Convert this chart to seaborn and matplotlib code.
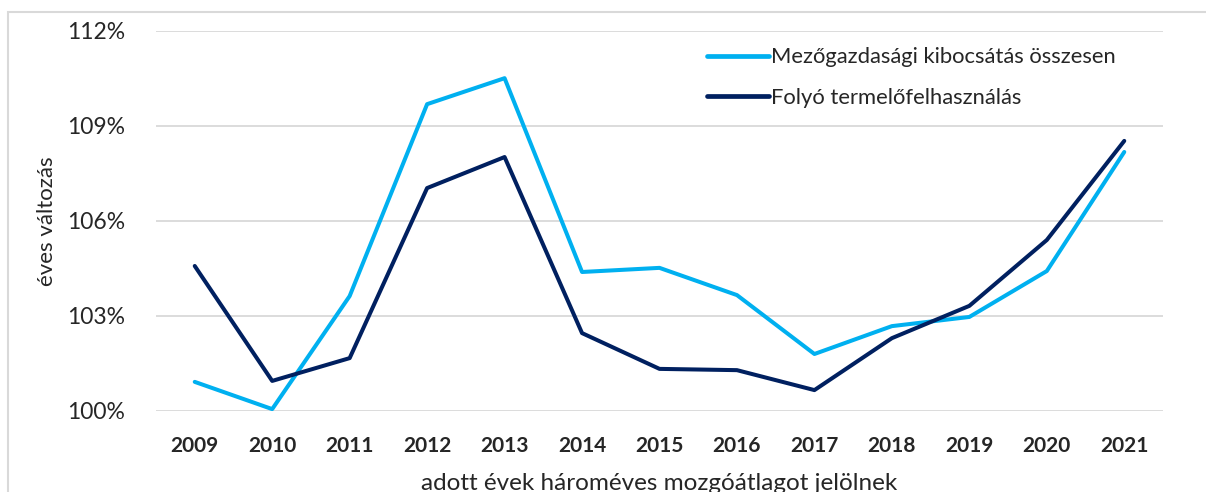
import pandas as pd
import seaborn as sb
import matplotlib.pyplot as plt
from matplotlib.patches import Rectangle
from matplotlib.ticker import FuncFormatter

years = [2009, 2010, 2011, 2012, 2013, 2014, 2015, 2016, 2017, 2018, 2019, 2020, 2021]
kibocsatas = [100.92, 100.06, 103.63, 109.69, 110.51, 104.39, 104.52, 103.66, 101.80, 102.68, 102.97, 104.42, 108.18]
termelofelh = [104.58, 100.95, 101.67, 107.04, 108.02, 102.46, 101.33, 101.29, 100.66, 102.30, 103.32, 105.40, 108.53]
series_names = ['Mezőgazdasági kibocsátás összesen', 'Folyó termelőfelhasználás']
colors = ['#00B0F0', '#002060']

data = pd.DataFrame({
    'ev': years * 2,
    'ertek': kibocsatas + termelofelh,
    'sorozat': [series_names[0]] * len(years) + [series_names[1]] * len(years),
})

sb.set_style('white')
plt.rcParams['font.family'] = ['Lato', 'DejaVu Sans']

fig = plt.figure(figsize=(12.06, 4.92), dpi=100)
ax = fig.add_axes([156 / 1206, 1 - 411 / 492, 1007 / 1206, 380 / 492])

sb.lineplot(data=data, x='ev', y='ertek', hue='sorozat', hue_order=series_names,
            palette=colors, linewidth=2.9, ax=ax, clip_on=False)

ax.set_xlim(2008.5, 2021.5)
ax.set_ylim(100, 112)
ax.set_yticks([100, 103, 106, 109, 112])
ax.yaxis.set_major_formatter(FuncFormatter(lambda v, p: f'{v:.0f}%'))
ax.set_xticks(years)
ax.set_xticklabels([str(y) for y in years], fontweight='bold', fontsize=15)
ax.tick_params(axis='y', labelsize=16.5, pad=22, length=0)
ax.tick_params(axis='x', pad=18, length=0)
ax.grid(axis='y', color='#D9D9D9', linewidth=1.3)
ax.set_axisbelow(True)
for s in ax.spines.values():
    s.set_visible(False)

ax.set_ylabel('éves változás', fontsize=16)
ax.yaxis.set_label_coords(-0.098, 0.5)
ax.set_xlabel('adott évek hároméves mozgóátlagot jelölnek', fontsize=17.5)
ax.xaxis.set_label_coords(0.5, -0.163)

leg = ax.legend(loc='upper left', bbox_to_anchor=(0.528, 1.009), frameon=False,
                fontsize=15.8, handlelength=2.8, handletextpad=0.1, labelspacing=0.95)
for line in leg.get_lines():
    line.set_linewidth(3.4)

fig.patches.append(Rectangle((8 / 1206, -0.1), 1.2, 1 - 12 / 492 + 0.1,
                             transform=fig.transFigure, fill=False,
                             edgecolor='#D9D9D9', linewidth=1.5, clip_on=False))

fig.savefig('out.png', dpi=100)
